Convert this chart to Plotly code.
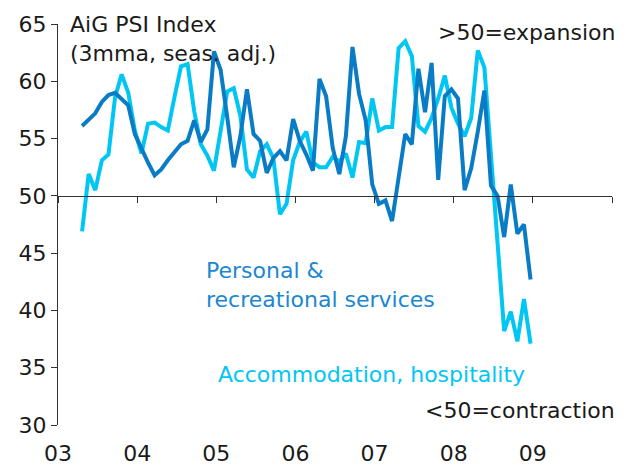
import pandas as pd
import plotly.graph_objects as go

# Monthly AiG PSI readings (3-month moving average, seasonally adjusted), Apr 2003 - Dec 2008
months = pd.date_range("2003-04-01", "2008-12-01", freq="MS")

personal_recreational = [
    56.1, 56.6, 57.2, 58.2, 58.8, 59.0, 58.4, 57.9, 55.4, 54.1, 52.9, 51.8,
    52.3, 53.1, 53.8, 54.5, 54.8, 56.6, 54.7, 55.8, 62.6, 61.0, 56.9, 52.5,
    55.2, 59.3, 55.4, 54.8, 52.0, 53.3, 53.9, 53.1, 56.7, 54.8, 53.6, 52.2,
    60.2, 58.7, 54.2, 51.9, 55.2, 63.0, 58.9, 56.6, 51.0, 49.3, 49.6, 47.8,
    51.6, 55.4, 54.5, 61.1, 57.3, 61.6, 51.4, 58.7, 59.3, 58.5, 50.5, 52.4,
    55.6, 59.2, 50.9, 50.0, 46.4, 51.0, 46.7, 47.5, 42.7,
]

accommodation_hospitality = [
    46.9, 51.9, 50.5, 53.1, 53.6, 58.6, 60.6, 59.0, 55.7, 53.7, 56.3, 56.4,
    56.0, 55.7, 58.6, 61.3, 61.5, 57.4, 54.5, 53.5, 52.2, 55.9, 59.1, 59.4,
    57.0, 52.3, 51.6, 53.9, 54.5, 53.3, 48.4, 49.3, 53.1, 54.7, 55.6, 52.9,
    52.5, 52.5, 53.4, 53.0, 53.7, 51.6, 54.7, 54.6, 58.5, 55.7, 56.0, 56.0,
    62.9, 63.5, 62.2, 56.1, 55.6, 56.8, 58.5, 60.5, 57.7, 56.3, 55.2, 56.8,
    62.7, 61.2, 53.8, 46.2, 38.2, 39.9, 37.3, 41.0, 37.1,
]

year_ticks = [2003, 2004, 2005, 2006, 2007, 2008, 2009, 2010]
year_labels = ["03", "04", "05", "06", "07", "08", "09", ""]
y_ticks = [30, 35, 40, 45, 50, 55, 60, 65]

# Decimal-year position of each monthly observation (mid-month)
x_pos = [d.year + (d.month - 1 + 0.65) / 12 for d in months]

DARK = "#0A7CC6"
LIGHT = "#00C6F4"
TEXT = "#1a1a1a"
FONT = "DejaVu Sans"
FS = 22

fig = go.Figure()
fig.add_trace(go.Scatter(
    x=x_pos, y=accommodation_hospitality, mode="lines",
    line=dict(color=LIGHT, width=4), name="Accommodation, hospitality",
))
fig.add_trace(go.Scatter(
    x=x_pos, y=personal_recreational, mode="lines",
    line=dict(color=DARK, width=4), name="Personal & recreational services",
))

# Horizontal axis line drawn through the 50 level
fig.add_trace(go.Scatter(x=[None], y=[None], xaxis="x2", showlegend=False))

fig.update_layout(
    width=632, height=469,
    margin=dict(l=58, r=20, t=24, b=44, autoexpand=False),
    paper_bgcolor="white", plot_bgcolor="white",
    showlegend=False,
    font=dict(family=FONT, size=FS, color=TEXT),
    xaxis=dict(
        range=[2003, 2010], tickvals=year_ticks, ticktext=year_labels,
        showline=False, showgrid=False, zeroline=False, ticks="",
        ticklabelstandoff=13, automargin=False,
        tickfont=dict(size=FS, color=TEXT),
    ),
    xaxis2=dict(
        range=[2003, 2010], overlaying="x", anchor="free",
        position=(50 - 30) / (65 - 30), tickvals=year_ticks,
        showticklabels=False, showline=True, linecolor="#333333", linewidth=1,
        ticks="outside", ticklen=6, tickcolor="#333333", tickwidth=1,
        showgrid=False, zeroline=False, automargin=False,
    ),
    yaxis=dict(
        range=[30, 65], tickvals=y_ticks, showgrid=False, zeroline=False,
        showline=True, linecolor="#333333", linewidth=1,
        ticks="outside", ticklen=6, tickcolor="#333333", tickwidth=1,
        tickfont=dict(size=FS, color=TEXT), automargin=False,
    ),
)

fig.add_annotation(
    x=0.018, y=1.035, xref="paper", yref="paper", xanchor="left", yanchor="top",
    text="AiG PSI Index<br>(3mma, seas. adj.)", showarrow=False, align="left",
    font=dict(size=FS, color=TEXT),
)
fig.add_annotation(
    x=1.009, y=0.978, xref="paper", yref="paper", xanchor="right", yanchor="middle",
    text=">50=expansion", showarrow=False, font=dict(size=FS, color=TEXT),
)
fig.add_annotation(
    x=1.009, y=0.037, xref="paper", yref="paper", xanchor="right", yanchor="middle",
    text="<50=contraction", showarrow=False, font=dict(size=FS, color=TEXT),
)
fig.add_annotation(
    x=2004.84, y=42.2, xref="x", yref="y", xanchor="left", yanchor="middle",
    text="Personal &<br>recreational services", showarrow=False, align="left",
    font=dict(size=FS, color="#1B87D0"),
)
fig.add_annotation(
    x=2005.0, y=34.4, xref="x", yref="y", xanchor="left", yanchor="middle",
    text="Accommodation, hospitality", showarrow=False,
    font=dict(size=FS, color=LIGHT),
)

fig.write_html("out.html")
